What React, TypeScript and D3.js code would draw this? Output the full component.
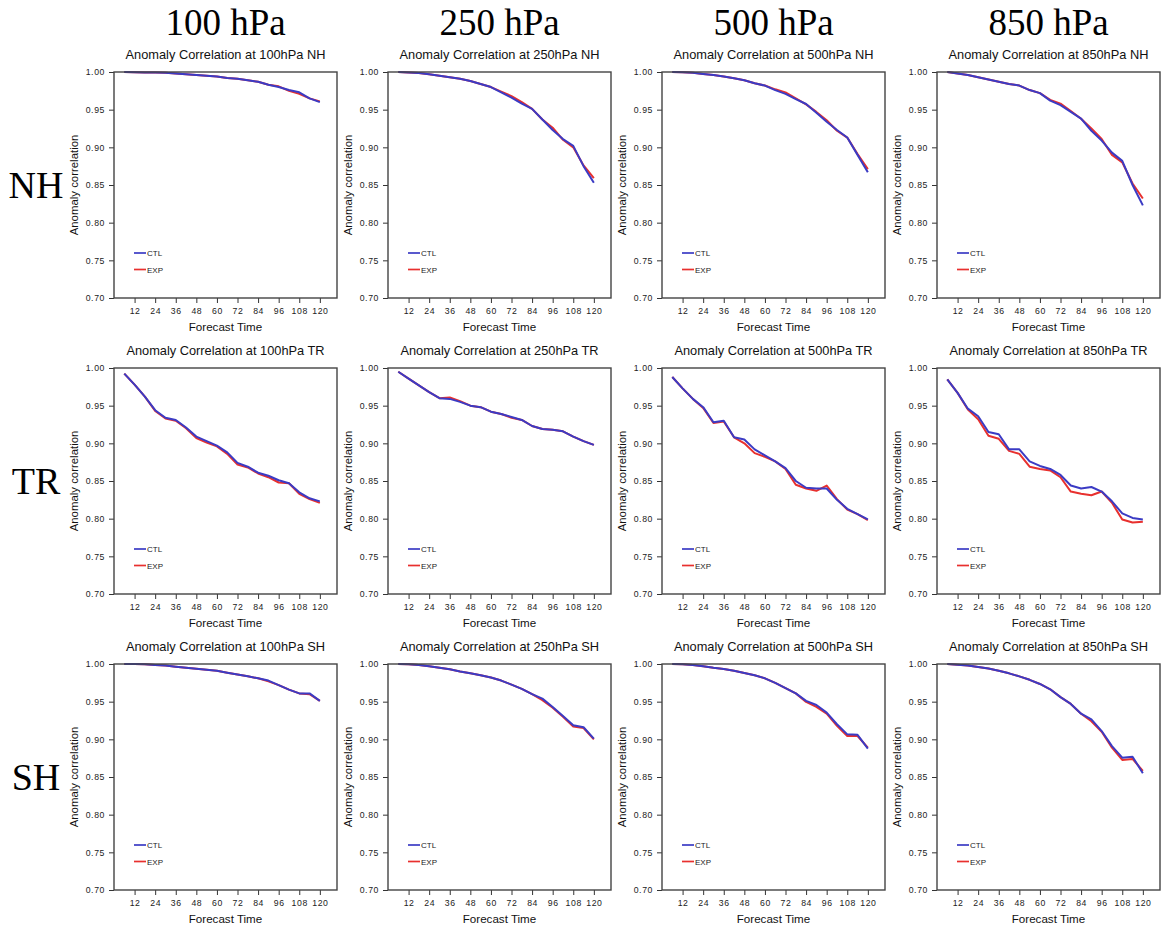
import React, { useEffect, useRef } from "react";
import * as d3 from "d3";

// ---- data ----
const levels = ["100 hPa", "250 hPa", "500 hPa", "850 hPa"];
const levelCodes = ["100hPa", "250hPa", "500hPa", "850hPa"];
const regions = ["NH", "TR", "SH"];
const forecastHours = [6, 12, 18, 24, 30, 36, 42, 48, 54, 60, 66, 72, 78, 84, 90, 96, 102, 108, 114, 120];
const xTickValues = [12, 24, 36, 48, 60, 72, 84, 96, 108, 120];
const yTickValues = [0.7, 0.75, 0.8, 0.85, 0.9, 0.95, 1.0];
const seriesNames = ["CTL", "EXP"];

// NH
const nh100Ctl = [1.0, 0.9998, 0.9995, 0.9993, 0.999, 0.998, 0.997, 0.996, 0.995, 0.994, 0.992, 0.991, 0.989, 0.987, 0.983, 0.98, 0.976, 0.973, 0.965, 0.96];
const nh100Exp = [1.0, 0.9998, 0.9995, 0.9993, 0.999, 0.998, 0.997, 0.996, 0.995, 0.994, 0.992, 0.991, 0.989, 0.987, 0.983, 0.981, 0.975, 0.971, 0.965, 0.961];
const nh250Ctl = [1.0, 0.9995, 0.9987, 0.997, 0.995, 0.993, 0.991, 0.988, 0.984, 0.98, 0.973, 0.966, 0.958, 0.951, 0.937, 0.923, 0.911, 0.902, 0.875, 0.853];
const nh250Exp = [1.0, 0.9995, 0.9987, 0.997, 0.995, 0.993, 0.991, 0.988, 0.984, 0.98, 0.974, 0.968, 0.96, 0.951, 0.937, 0.926, 0.91, 0.9, 0.876, 0.859];
const nh500Ctl = [1.0, 0.9996, 0.999, 0.9975, 0.996, 0.994, 0.9916, 0.989, 0.985, 0.982, 0.976, 0.971, 0.964, 0.9575, 0.946, 0.934, 0.923, 0.913, 0.89, 0.867];
const nh500Exp = [1.0, 0.9996, 0.999, 0.9975, 0.996, 0.994, 0.9916, 0.989, 0.985, 0.982, 0.977, 0.973, 0.965, 0.957, 0.947, 0.936, 0.922, 0.913, 0.891, 0.871];
const nh850Ctl = [1.0, 0.998, 0.996, 0.993, 0.99, 0.987, 0.984, 0.982, 0.976, 0.972, 0.962, 0.956, 0.947, 0.938, 0.922, 0.909, 0.893, 0.882, 0.85, 0.823];
const nh850Exp = [1.0, 0.998, 0.996, 0.993, 0.99, 0.987, 0.984, 0.982, 0.976, 0.972, 0.963, 0.958, 0.948, 0.938, 0.925, 0.911, 0.89, 0.88, 0.852, 0.832];
// TR
const tr100Ctl = [0.9925, 0.978, 0.962, 0.944, 0.934, 0.931, 0.921, 0.909, 0.903, 0.897, 0.888, 0.874, 0.869, 0.861, 0.857, 0.851, 0.847, 0.835, 0.827, 0.823];
const tr100Exp = [0.9925, 0.978, 0.962, 0.943, 0.933, 0.93, 0.92, 0.907, 0.901, 0.896, 0.886, 0.872, 0.868, 0.86, 0.855, 0.848, 0.847, 0.833, 0.826, 0.821];
const tr250Ctl = [0.995, 0.986, 0.977, 0.968, 0.96, 0.959, 0.955, 0.95, 0.948, 0.942, 0.939, 0.935, 0.931, 0.923, 0.919, 0.918, 0.916, 0.909, 0.903, 0.898];
const tr250Exp = [0.995, 0.986, 0.977, 0.968, 0.96, 0.961, 0.956, 0.95, 0.948, 0.942, 0.939, 0.934, 0.931, 0.923, 0.919, 0.918, 0.916, 0.909, 0.903, 0.898];
const tr500Ctl = [0.988, 0.973, 0.959, 0.948, 0.928, 0.93, 0.908, 0.905, 0.892, 0.884, 0.876, 0.867, 0.85, 0.841, 0.84, 0.84, 0.825, 0.813, 0.806, 0.799];
const tr500Exp = [0.988, 0.973, 0.959, 0.947, 0.927, 0.929, 0.908, 0.9, 0.887, 0.882, 0.876, 0.866, 0.845, 0.84, 0.837, 0.844, 0.826, 0.812, 0.806, 0.798];
const tr850Ctl = [0.985, 0.967, 0.946, 0.936, 0.915, 0.912, 0.892, 0.892, 0.876, 0.87, 0.866, 0.858, 0.844, 0.84, 0.842, 0.836, 0.823, 0.807, 0.801, 0.799];
const tr850Exp = [0.985, 0.967, 0.945, 0.932, 0.91, 0.906, 0.89, 0.886, 0.869, 0.866, 0.864, 0.855, 0.836, 0.833, 0.831, 0.836, 0.821, 0.799, 0.795, 0.796];
// SH
const sh100Ctl = [1.0, 1.0, 0.9996, 0.9987, 0.998, 0.9965, 0.995, 0.9938, 0.9925, 0.991, 0.9885, 0.986, 0.9836, 0.981, 0.978, 0.972, 0.966, 0.961, 0.961, 0.951];
const sh100Exp = [1.0, 1.0, 0.9996, 0.9987, 0.998, 0.9965, 0.995, 0.9938, 0.9925, 0.991, 0.9885, 0.986, 0.9836, 0.981, 0.977, 0.972, 0.966, 0.961, 0.96, 0.951];
const sh250Ctl = [1.0, 0.9996, 0.9987, 0.997, 0.995, 0.993, 0.99, 0.9876, 0.985, 0.982, 0.978, 0.9726, 0.967, 0.96, 0.954, 0.943, 0.931, 0.9186, 0.916, 0.901];
const sh250Exp = [1.0, 0.9996, 0.9987, 0.997, 0.995, 0.993, 0.99, 0.9876, 0.985, 0.982, 0.978, 0.9726, 0.967, 0.96, 0.952, 0.942, 0.93, 0.917, 0.915, 0.9];
const sh500Ctl = [1.0, 0.9996, 0.9987, 0.997, 0.995, 0.9934, 0.991, 0.988, 0.985, 0.981, 0.975, 0.968, 0.961, 0.951, 0.9456, 0.9354, 0.92, 0.9066, 0.906, 0.8876];
const sh500Exp = [1.0, 0.9996, 0.9987, 0.997, 0.995, 0.9934, 0.991, 0.988, 0.985, 0.981, 0.975, 0.968, 0.961, 0.9496, 0.943, 0.934, 0.918, 0.9044, 0.9044, 0.889];
const sh850Ctl = [1.0, 0.999, 0.998, 0.996, 0.994, 0.991, 0.9876, 0.9836, 0.979, 0.9735, 0.9664, 0.956, 0.947, 0.934, 0.9265, 0.911, 0.891, 0.8757, 0.877, 0.855];
const sh850Exp = [1.0, 0.999, 0.998, 0.996, 0.994, 0.991, 0.9876, 0.9836, 0.979, 0.9735, 0.9664, 0.956, 0.947, 0.934, 0.924, 0.91, 0.889, 0.8726, 0.874, 0.858];

const panelData: number[][][][] = [
  [[nh100Ctl, nh100Exp], [nh250Ctl, nh250Exp], [nh500Ctl, nh500Exp], [nh850Ctl, nh850Exp]],
  [[tr100Ctl, tr100Exp], [tr250Ctl, tr250Exp], [tr500Ctl, tr500Exp], [tr850Ctl, tr850Exp]],
  [[sh100Ctl, sh100Exp], [sh250Ctl, sh250Exp], [sh500Ctl, sh500Exp], [sh850Ctl, sh850Exp]],
];

// ---- layout ----
const W = 1165;
const H = 929;
const colLeft = [114, 388, 662, 937];
const rowTop = [72, 368, 664];
const PW = 223;
const PH = 226;
const colors = ["#3b3bc4", "#e8302e"];
const SANS = "Helvetica, Arial, 'Liberation Sans', sans-serif";
const SERIF = "'Times New Roman', 'Liberation Serif', serif";

export default function App() {
  const ref = useRef<SVGSVGElement | null>(null);

  useEffect(() => {
    const svg = d3.select(ref.current);
    svg.selectAll("*").remove();
    svg.append("rect").attr("width", W).attr("height", H).attr("fill", "#fff");

    const x = d3.scaleLinear().domain([0, 130]).range([0, PW]);
    const y = d3.scaleLinear().domain([0.7, 1.0]).range([PH, 0]);

    levels.forEach((lv, c) => {
      svg.append("text")
        .attr("x", colLeft[c] + PW / 2)
        .attr("y", 35)
        .attr("text-anchor", "middle")
        .attr("font-family", SERIF)
        .attr("font-size", 37)
        .attr("fill", "#000")
        .text(lv);
    });
    regions.forEach((rg, r) => {
      svg.append("text")
        .attr("x", 36)
        .attr("y", rowTop[r] + 126)
        .attr("text-anchor", "middle")
        .attr("font-family", SERIF)
        .attr("font-size", 38)
        .attr("fill", "#000")
        .text(rg);
    });

    regions.forEach((rg, r) => {
      levelCodes.forEach((lc, c) => {
        const g = svg.append("g").attr("transform", `translate(${colLeft[c]},${rowTop[r]})`);

        g.append("text")
          .attr("x", PW / 2)
          .attr("y", -13)
          .attr("text-anchor", "middle")
          .attr("font-family", SANS)
          .attr("font-size", 12.8)
          .attr("fill", "#111")
          .text(`Anomaly Correlation at ${lc} ${rg}`);

        const xAxis = d3.axisBottom(x).tickValues(xTickValues).tickSize(5).tickPadding(5).tickFormat(d3.format("d"));
        const yAxis = d3.axisLeft(y).tickValues(yTickValues).tickSize(5).tickPadding(4).tickFormat(d3.format(".2f"));
        const gx = g.append("g").attr("transform", `translate(0,${PH})`).call(xAxis);
        const gy = g.append("g").call(yAxis);
        [gx, gy].forEach((ax) => {
          ax.select(".domain").remove();
          ax.selectAll("line").attr("stroke", "#333").attr("stroke-width", 1);
          ax.selectAll("text")
            .attr("font-family", SANS)
            .attr("font-size", 8.7)
            .attr("fill", "#222")
            .attr("letter-spacing", 0.6);
        });

        const line = d3.line<number>()
          .x((_, i) => x(forecastHours[i]))
          .y((d) => y(d));
        [1, 0].forEach((si) => {
          g.append("path")
            .datum(panelData[r][c][si])
            .attr("fill", "none")
            .attr("stroke", colors[si])
            .attr("stroke-width", 2)
            .attr("stroke-linejoin", "round")
            .attr("d", line);
        });

        g.append("rect")
          .attr("width", PW)
          .attr("height", PH)
          .attr("fill", "none")
          .attr("stroke", "#444")
          .attr("stroke-width", 1.4);

        seriesNames.forEach((nm, si) => {
          const ly = 181 + si * 16.5;
          g.append("line")
            .attr("x1", 20).attr("x2", 32)
            .attr("y1", ly).attr("y2", ly)
            .attr("stroke", colors[si])
            .attr("stroke-width", 1.7);
          g.append("text")
            .attr("x", 33)
            .attr("y", ly + 3)
            .attr("font-family", SANS)
            .attr("font-size", 8)
            .attr("fill", "#222")
            .text(nm);
        });

        g.append("text")
          .attr("x", PW / 2)
          .attr("y", PH + 33)
          .attr("text-anchor", "middle")
          .attr("font-family", SANS)
          .attr("font-size", 11.6)
          .attr("fill", "#111")
          .text("Forecast Time");
        g.append("text")
          .attr("transform", `translate(-36,${PH / 2}) rotate(-90)`)
          .attr("text-anchor", "middle")
          .attr("font-family", SANS)
          .attr("font-size", 11.4)
          .attr("fill", "#111")
          .text("Anomaly correlation");
      });
    });
  }, []);

  return (
    <svg
      ref={ref}
      width={W}
      height={H}
      style={{ position: "absolute", left: 0, top: 0, display: "block" }}
    />
  );
}
